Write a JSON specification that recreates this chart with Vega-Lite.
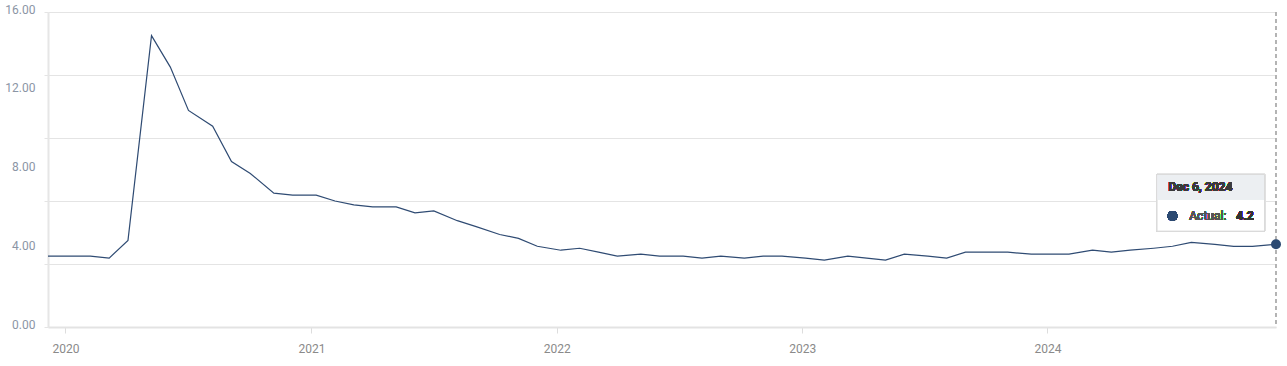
{
  "$schema": "https://vega.github.io/schema/vega-lite/v6.json",
  "width": 1228,
  "height": 315,
  "autosize": {"type": "none"},
  "padding": {"left": 48, "top": 12, "right": 11, "bottom": 39},
  "background": "white",
  "config": {"view": {"stroke": null}, "font": "Roboto", "axis": {"labelFont": "Roboto"}},
  "data": {
    "values": [
      {"date": "2019-12-06", "value": 3.6},
      {"date": "2020-01-10", "value": 3.6},
      {"date": "2020-02-07", "value": 3.6},
      {"date": "2020-03-06", "value": 3.5},
      {"date": "2020-04-03", "value": 4.4},
      {"date": "2020-05-08", "value": 14.8},
      {"date": "2020-06-05", "value": 13.2},
      {"date": "2020-07-02", "value": 11.0},
      {"date": "2020-08-07", "value": 10.2},
      {"date": "2020-09-04", "value": 8.4},
      {"date": "2020-10-02", "value": 7.8},
      {"date": "2020-11-06", "value": 6.8},
      {"date": "2020-12-04", "value": 6.7},
      {"date": "2021-01-08", "value": 6.7},
      {"date": "2021-02-05", "value": 6.4},
      {"date": "2021-03-05", "value": 6.2},
      {"date": "2021-04-02", "value": 6.1},
      {"date": "2021-05-07", "value": 6.1},
      {"date": "2021-06-04", "value": 5.8},
      {"date": "2021-07-02", "value": 5.9},
      {"date": "2021-08-06", "value": 5.4},
      {"date": "2021-09-03", "value": 5.1},
      {"date": "2021-10-08", "value": 4.7},
      {"date": "2021-11-05", "value": 4.5},
      {"date": "2021-12-03", "value": 4.1},
      {"date": "2022-01-07", "value": 3.9},
      {"date": "2022-02-04", "value": 4.0},
      {"date": "2022-03-04", "value": 3.8},
      {"date": "2022-04-01", "value": 3.6},
      {"date": "2022-05-06", "value": 3.7},
      {"date": "2022-06-03", "value": 3.6},
      {"date": "2022-07-08", "value": 3.6},
      {"date": "2022-08-05", "value": 3.5},
      {"date": "2022-09-02", "value": 3.6},
      {"date": "2022-10-07", "value": 3.5},
      {"date": "2022-11-04", "value": 3.6},
      {"date": "2022-12-02", "value": 3.6},
      {"date": "2023-01-06", "value": 3.5},
      {"date": "2023-02-03", "value": 3.4},
      {"date": "2023-03-10", "value": 3.6},
      {"date": "2023-04-07", "value": 3.5},
      {"date": "2023-05-05", "value": 3.4},
      {"date": "2023-06-02", "value": 3.7},
      {"date": "2023-07-07", "value": 3.6},
      {"date": "2023-08-04", "value": 3.5},
      {"date": "2023-09-01", "value": 3.8},
      {"date": "2023-10-06", "value": 3.8},
      {"date": "2023-11-03", "value": 3.8},
      {"date": "2023-12-08", "value": 3.7},
      {"date": "2024-01-05", "value": 3.7},
      {"date": "2024-02-02", "value": 3.7},
      {"date": "2024-03-08", "value": 3.9},
      {"date": "2024-04-05", "value": 3.8},
      {"date": "2024-05-03", "value": 3.9},
      {"date": "2024-06-07", "value": 4.0},
      {"date": "2024-07-05", "value": 4.1},
      {"date": "2024-08-02", "value": 4.3},
      {"date": "2024-09-06", "value": 4.2},
      {"date": "2024-10-04", "value": 4.1},
      {"date": "2024-11-01", "value": 4.1},
      {"date": "2024-12-06", "value": 4.2}
    ]
  },
  "layer": [
    {
      "mark": {"type": "line", "color": "#2f4b73", "strokeWidth": 1.2, "clip": false},
      "encoding": {
        "x": {
          "field": "date",
          "type": "temporal",
          "scale": {
            "type": "utc",
            "nice": false,
            "domain": [
              {"year": 2019, "month": 12, "date": 6, "utc": true},
              {"year": 2024, "month": 12, "date": 6, "utc": true}
            ]
          },
          "axis": {
            "title": null,
            "tickCount": {"interval": "year", "step": 1},
            "format": "%Y",
            "grid": false,
            "domainColor": "#e3e3e3",
            "domainWidth": 2,
            "tickColor": "#dddddd",
            "tickSize": 6,
            "labelPadding": 10,
            "labelColor": "#8a8a8a",
            "labelFontSize": 12,
            "labelFlush": false
          }
        },
        "y": {
          "field": "value",
          "type": "quantitative",
          "scale": {"domain": [0, 16], "nice": false},
          "axis": {
            "orient": "left",
            "title": null,
            "values": [0, 3.2, 6.4, 9.6, 12.8, 16],
            "labels": false,
            "grid": true,
            "gridColor": "#e4e4e4",
            "gridWidth": 1,
            "ticks": true,
            "tickSize": 4,
            "tickColor": "#e4e4e4",
            "domain": true,
            "domainColor": "#e6e6e6",
            "domainWidth": 2
          }
        }
      }
    },
    {
      "mark": {"type": "rule", "color": "#b3b3b3", "strokeDash": [4, 3], "strokeWidth": 1},
      "encoding": {
        "x": {"datum": {"year": 2024, "month": 12, "date": 6, "utc": true}, "type": "temporal"}
      }
    },
    {
      "transform": [{"filter": {"field": "date", "equal": {"year": 2024, "month": 12, "date": 6, "utc": true}}}],
      "mark": {"type": "point", "filled": true, "opacity": 1, "color": "#2c4a72", "size": 100, "clip": false},
      "encoding": {
        "x": {"field": "date", "type": "temporal"},
        "y": {
          "field": "value",
          "type": "quantitative",
          "axis": {
            "orient": "left",
            "title": null,
            "values": [0, 4, 8, 12, 16],
            "format": ".2f",
            "grid": false,
            "ticks": false,
            "tickSize": 0,
            "domain": false,
            "labelPadding": 13,
            "labelOffset": -3,
            "labelColor": "#8b95a5",
            "labelFontSize": 12
          }
        }
      }
    },
    {
      "mark": {"type": "rect", "fill": "white", "stroke": "#dadada", "strokeWidth": 1},
      "encoding": {
        "x": {"datum": {"year": 2024, "month": 6, "date": 12, "utc": true}, "type": "temporal"},
        "x2": {"datum": {"year": 2024, "month": 11, "date": 19, "utc": true}},
        "y": {"datum": 7.75, "type": "quantitative", "axis": null},
        "y2": {"datum": 4.87}
      }
    },
    {
      "mark": {"type": "rect", "fill": "#eceff2"},
      "encoding": {
        "x": {"datum": {"year": 2024, "month": 6, "date": 13, "utc": true}, "type": "temporal"},
        "x2": {"datum": {"year": 2024, "month": 11, "date": 18, "utc": true}},
        "y": {"datum": 7.72, "type": "quantitative", "axis": null},
        "y2": {"datum": 6.48}
      }
    },
    {
      "mark": {"type": "text", "text": "Dec 6, 2024", "align": "left", "baseline": "middle", "font": "Roboto", "fontWeight": "bold", "fontSize": 12, "color": "#3a3a3a"},
      "encoding": {
        "x": {"datum": {"year": 2024, "month": 6, "date": 29, "utc": true}, "type": "temporal"},
        "y": {"datum": 7.12, "type": "quantitative", "axis": null}
      }
    },
    {
      "mark": {"type": "point", "filled": true, "opacity": 1, "color": "#2c4a72", "size": 95},
      "encoding": {
        "x": {"datum": {"year": 2024, "month": 7, "date": 5, "utc": true}, "type": "temporal"},
        "y": {"datum": 5.64, "type": "quantitative", "axis": null}
      }
    },
    {
      "mark": {"type": "text", "text": "Actual:", "align": "left", "baseline": "middle", "font": "Roboto", "fontSize": 12, "color": "#555555"},
      "encoding": {
        "x": {"datum": {"year": 2024, "month": 7, "date": 30, "utc": true}, "type": "temporal"},
        "y": {"datum": 5.64, "type": "quantitative", "axis": null}
      }
    },
    {
      "mark": {"type": "text", "text": "4.2", "align": "left", "baseline": "middle", "font": "Roboto", "fontWeight": "bold", "fontSize": 12, "color": "#333333"},
      "encoding": {
        "x": {"datum": {"year": 2024, "month": 10, "date": 8, "utc": true}, "type": "temporal"},
        "y": {"datum": 5.64, "type": "quantitative", "axis": null}
      }
    }
  ],
  "resolve": {"axis": {"y": "independent"}}
}
